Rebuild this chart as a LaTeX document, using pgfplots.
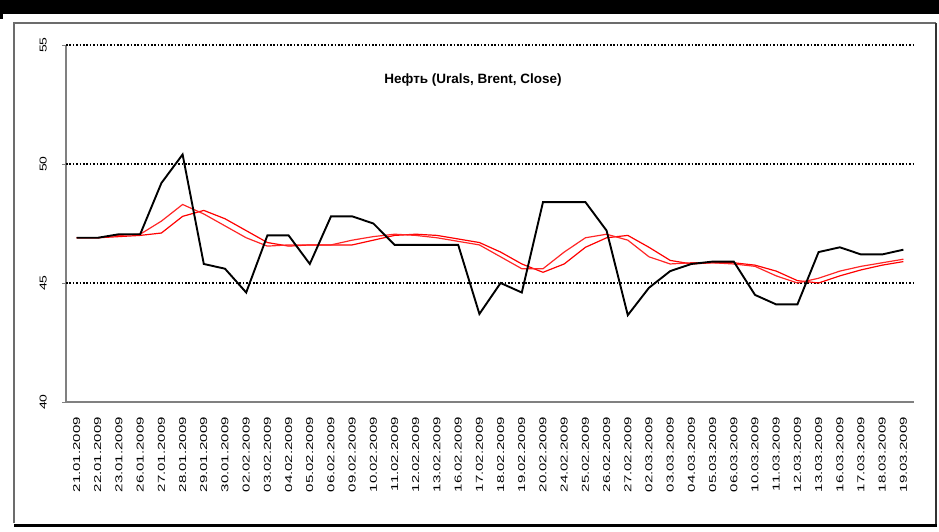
\documentclass[border=0pt]{standalone}
\usepackage{fontspec}
\setmainfont{Liberation Sans}
\usepackage{graphicx}
\usepackage{pgfplots}
\pgfplotsset{compat=1.18}
\usepackage{pgfplotstable}

% closing price and two moving averages
\pgfplotstableread{
i   close  maf    mas
0   46.90  46.90  46.90
1   46.90  46.90  46.90
2   47.05  47.00  46.95
3   47.05  47.05  47.00
4   49.20  47.60  47.10
5   50.40  48.30  47.80
6   45.80  47.90  48.05
7   45.60  47.40  47.70
8   44.60  46.90  47.20
9   47.00  46.55  46.70
10  47.00  46.60  46.55
11  45.80  46.60  46.60
12  47.80  46.60  46.60
13  47.80  46.80  46.60
14  47.50  46.95  46.80
15  46.60  47.05  47.00
16  46.60  47.00  47.05
17  46.60  46.90  47.00
18  46.60  46.75  46.85
19  43.70  46.60  46.70
20  45.00  46.10  46.30
21  44.60  45.60  45.80
22  48.40  45.60  45.45
23  48.40  46.30  45.80
24  48.40  46.90  46.50
25  47.20  47.05  46.90
26  43.65  46.80  47.00
27  44.80  46.10  46.50
28  45.50  45.80  45.95
29  45.80  45.85  45.80
30  45.90  45.85  45.85
31  45.90  45.80  45.85
32  44.50  45.70  45.75
33  44.10  45.30  45.50
34  44.10  45.00  45.10
35  46.30  45.20  45.00
36  46.50  45.50  45.30
37  46.20  45.70  45.55
38  46.20  45.85  45.75
39  46.40  46.00  45.90
}\oil

\newcommand{\dl}[1]{\scalebox{1.5}[1]{#1}}
\newcommand{\yl}[1]{\scalebox{1.4}[1]{#1}}

\begin{document}
\begin{tikzpicture}
\path[use as bounding box] (0pt,0pt) rectangle (939pt,531pt);
% frame
\fill[black] (0pt,517pt) rectangle (939pt,531pt);
\fill[black] (0pt,512pt) rectangle (3pt,517pt);
\draw[gray!85!black, line width=1.5pt] (14pt,8pt) -- (14pt,508pt) -- (936pt,508pt);
\draw[black!80, line width=2pt] (936pt,508pt) -- (936pt,6pt);
\draw[black, line width=3pt] (14pt,6pt) -- (937pt,6pt);

\begin{axis}[
  at={(66pt,129pt)}, anchor=south west,
  scale only axis, width=848pt, height=357pt,
  xmin=-0.5, xmax=39.5, ymin=40, ymax=55,
  axis x line*=bottom, axis y line*=left,
  axis line style={gray, line width=1.2pt},
  xtick={0,...,39},
  xticklabels={
    \dl{21.01.2009},\dl{22.01.2009},\dl{23.01.2009},\dl{26.01.2009},\dl{27.01.2009},
    \dl{28.01.2009},\dl{29.01.2009},\dl{30.01.2009},\dl{02.02.2009},\dl{03.02.2009},
    \dl{04.02.2009},\dl{05.02.2009},\dl{06.02.2009},\dl{09.02.2009},\dl{10.02.2009},
    \dl{11.02.2009},\dl{12.02.2009},\dl{13.02.2009},\dl{16.02.2009},\dl{17.02.2009},
    \dl{18.02.2009},\dl{19.02.2009},\dl{20.02.2009},\dl{24.02.2009},\dl{25.02.2009},
    \dl{26.02.2009},\dl{27.02.2009},\dl{02.03.2009},\dl{03.03.2009},\dl{04.03.2009},
    \dl{05.03.2009},\dl{06.03.2009},\dl{10.03.2009},\dl{11.03.2009},\dl{12.03.2009},
    \dl{13.03.2009},\dl{16.03.2009},\dl{17.03.2009},\dl{18.03.2009},\dl{19.03.2009}},
  xtick style={draw=none},
  minor xtick={-0.5,0.5,...,39.5},
  minor x tick style={gray, line width=1pt},
  minor tick length=5pt,
  tick align=outside,
  xticklabel style={yshift=-10pt, rotate=90, anchor=east,
    font=\fontsize{10}{11}\selectfont, inner sep=1pt},
  ytick={40,45,50,55},
  yticklabels={\yl{40},\yl{45},\yl{50},\yl{55}},
  ytick style={gray, line width=1pt},
  major tick length=4pt,
  yticklabel style={xshift=-14pt, rotate=90, anchor=south,
    font=\fontsize{10}{11}\selectfont, inner sep=1pt},
  extra y ticks={45,50,55},
  extra y tick labels={},
  extra y tick style={ymajorgrids=true, major tick length=0pt},
  grid style={black, line width=1.1pt, dash pattern=on 1.6pt off 1.8pt},
  title={Нефть (Urals, Brent, Close)},
  title style={at={(0.48,0.885)}, anchor=center,
    font=\bfseries\fontsize{13.5}{15}\selectfont},
  clip=false,
]
\addplot[red, line width=1.2pt] table[x=i, y=mas] {\oil};
\addplot[red!85!white, line width=1.2pt] table[x=i, y=maf] {\oil};
\addplot[black, line width=1.9pt] table[x=i, y=close] {\oil};
\end{axis}
\end{tikzpicture}
\end{document}
